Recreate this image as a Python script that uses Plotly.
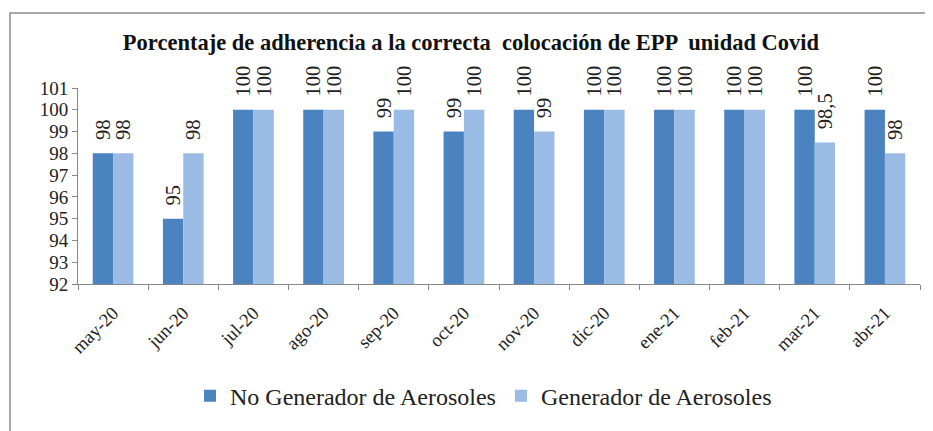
import plotly.graph_objects as go

months = ["may-20", "jun-20", "jul-20", "ago-20", "sep-20", "oct-20",
          "nov-20", "dic-20", "ene-21", "feb-21", "mar-21", "abr-21"]
no_generador = [98, 95, 100, 100, 99, 99, 100, 100, 100, 100, 100, 100]
generador = [98, 98, 100, 100, 100, 100, 99, 100, 100, 100, 98.5, 98]
no_labels = ["98", "95", "100", "100", "99", "99", "100", "100", "100", "100", "100", "100"]
gen_labels = ["98", "98", "100", "100", "100", "100", "99", "100", "100", "100", "98,5", "98"]

FONT = "Liberation Serif"
PAD = "\u00a0\u00a0"

W, H = 925, 423
L, R, T, B = 70, 13, 80, 142
PW, PH = W - L - R, H - T - B

fig = go.Figure()
fig.add_trace(go.Bar(
    x=months, y=no_generador, name="No Generador de Aerosoles",
    marker=dict(color="#4A83C0", line=dict(width=0)),
    text=[PAD + t for t in no_labels], textposition="outside", textangle=-90,
    textfont=dict(family=FONT, size=20.5, color="#222"),
    cliponaxis=False, constraintext="none",
))
fig.add_trace(go.Bar(
    x=months, y=generador, name="Generador de Aerosoles",
    marker=dict(color="#9ABBE4", line=dict(width=0)),
    text=[PAD + t for t in gen_labels], textposition="outside", textangle=-90,
    textfont=dict(family=FONT, size=20.5, color="#222"),
    cliponaxis=False, constraintext="none",
))

fig.update_layout(
    width=W, height=H,
    margin=dict(l=L, r=R, t=T, b=B),
    paper_bgcolor="white", plot_bgcolor="white",
    barmode="group", bargap=0.42, bargroupgap=0,
    font=dict(family=FONT, size=18, color="#222"),
    title=dict(text="<b>Porcentaje de adherencia a la correcta  colocación de EPP  unidad Covid</b>",
               x=0.5005, xanchor="center", y=1 - 34 / H, yanchor="middle",
               font=dict(family=FONT, size=22.5, color="#111")),
    showlegend=True,
    legend=dict(orientation="h", x=(475.5 - L) / PW, xanchor="center",
                y=-(396 - (H - B)) / PH, yanchor="middle",
                font=dict(family=FONT, size=24, color="#222"),
                itemwidth=30, tracegroupgap=0),
    xaxis=dict(tickangle=-45, showline=True, linecolor="#888", linewidth=1,
               ticks="outside", ticklen=5, tickcolor="#888",
               tickson="boundaries", showgrid=False, ticklabelstandoff=10,
               tickfont=dict(family=FONT, size=18.5, color="#222")),
    yaxis=dict(range=[92, 101], dtick=1, showline=True, linecolor="#888", linewidth=1,
               ticks="outside", ticklen=5, tickcolor="#888", showgrid=False,
               zeroline=False, tickfont=dict(family=FONT, size=19, color="#222")),
    shapes=[dict(type="rect", xref="paper", yref="paper",
                 x0=(2 - L) / PW, x1=1.05, y0=-0.8, y1=1 + (T - 3) / PH,
                 line=dict(color="#8c8c8c", width=1.5), fillcolor="rgba(0,0,0,0)",
                 layer="below")],
)

fig.write_html("out.html")
